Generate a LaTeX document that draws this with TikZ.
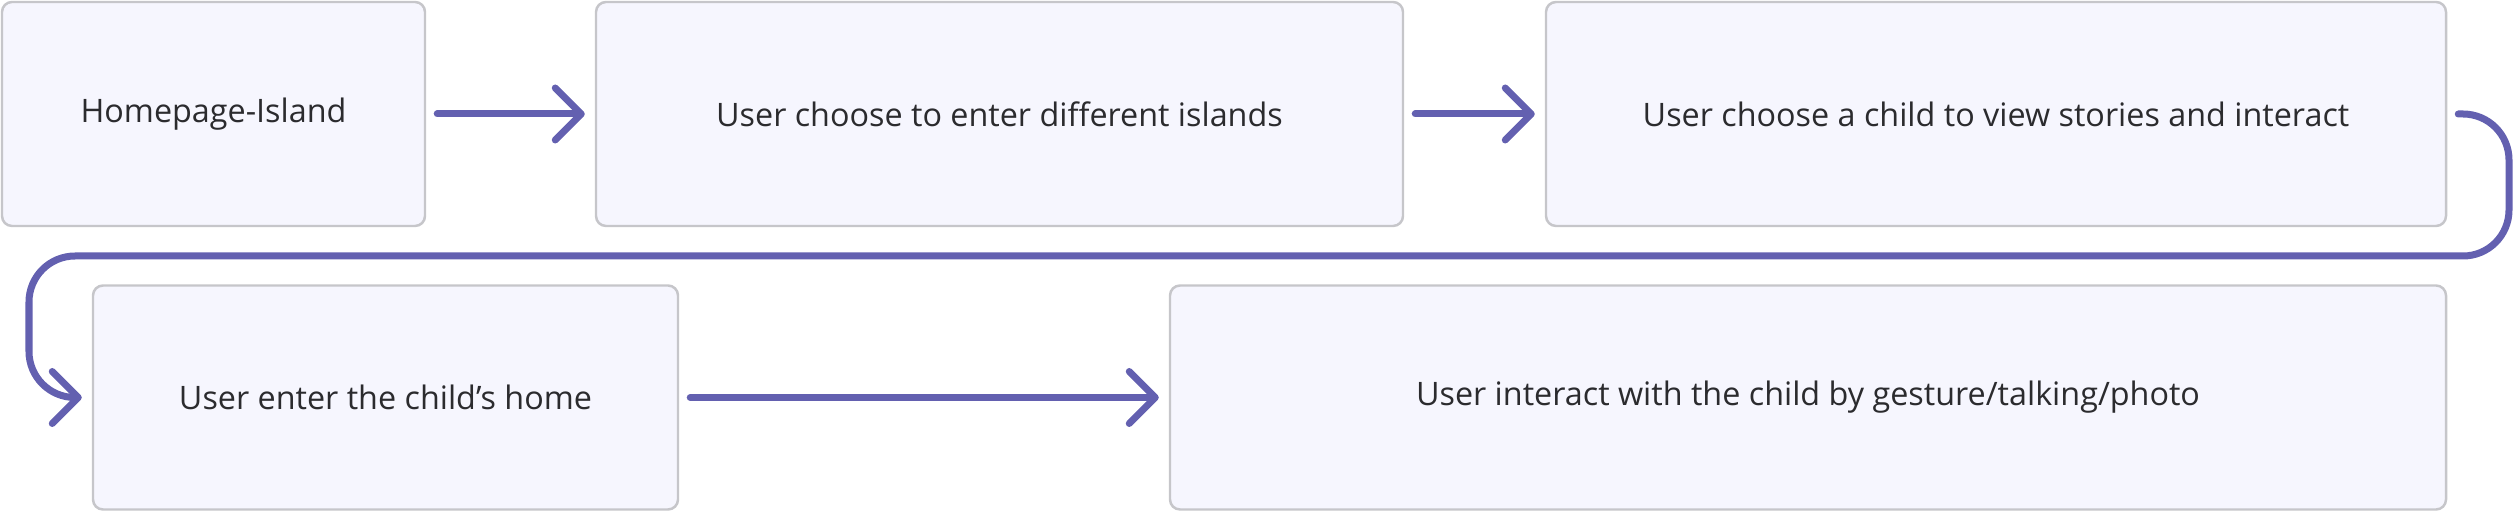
\documentclass[tikz,border=0pt]{standalone}
\usepackage{fontspec}
\setmainfont{Open Sans}
\usetikzlibrary{arrows.meta}
\definecolor{boxfill}{HTML}{F6F6FE}
\definecolor{boxline}{HTML}{C6C6CA}
\definecolor{flowcol}{HTML}{6360B0}
\definecolor{txtcol}{HTML}{2B2B2E}

\begin{document}
\begin{tikzpicture}[font=\fontsize{9.2}{11}\selectfont,line cap=round,
  box/.style={draw=boxline,fill=boxfill,line width=0.7pt,rounded corners=0.1cm,
    minimum height=2.24cm,text=txtcol,inner sep=0pt},
  flow/.style={draw=flowcol,line width=0.07cm,
    -{Straight Barb[length=2.6mm,width=5.2mm,round]},
    shorten <=0.11cm,shorten >=0.1cm}]
\useasboundingbox (0,0) rectangle (25.14,5.11);
\node[box,minimum width=4.23cm] (home) at (2.135,3.97) {Homepage-Island};
\node[box,minimum width=8.07cm] (choose) at (9.995,3.97) {User choose to enter different islands};
\node[box,minimum width=9cm] (child) at (19.96,3.97) {User choose a child to view stories and interact};
\node[box,minimum width=5.85cm] (enter) at (3.855,1.135) {User enter the child’s home};
\node[box,minimum width=12.76cm] (interact) at (18.08,1.135) {User interact with the child by gesture/talking/photo};
\coordinate (turnR) at (25.09,2.55);
\coordinate (turnL) at (0.29,2.55);
\draw[flow] (home) -- (choose);
\draw[flow] (choose) -- (child);
\draw[flow,rounded corners=0.46cm] (child.east) -| (turnR) -- (turnL) |- (enter.west);
\draw[flow] (enter) -- (interact);
\end{tikzpicture}
\end{document}
